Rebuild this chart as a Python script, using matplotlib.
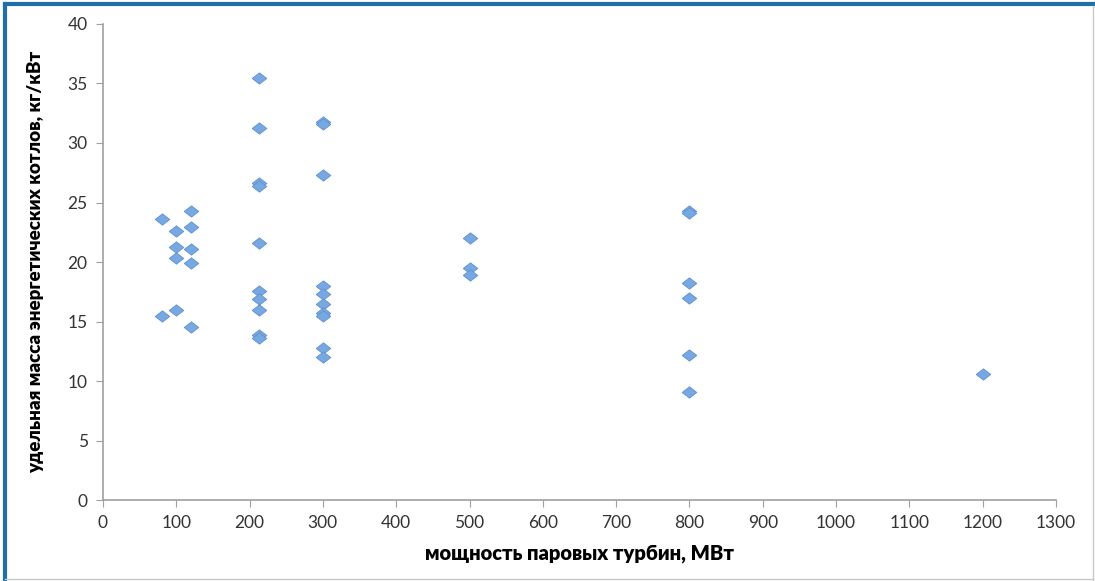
import numpy as np
import matplotlib
matplotlib.use("Agg")
import matplotlib.pyplot as plt
from matplotlib.lines import Line2D

plt.rcParams['font.family'] = ['Lato', 'DejaVu Sans']

# мощность турбины, МВт
power_80 = [80, 80]
mass_80 = [23.6, 15.5]
power_100 = [100, 100, 100, 100]
mass_100 = [22.6, 21.3, 20.3, 16.0]
power_120 = [120, 120, 120, 120, 120]
mass_120 = [24.3, 22.9, 21.1, 19.9, 14.5]
power_215 = [213] * 10
mass_215 = [35.5, 31.3, 26.6, 26.4, 21.6, 17.6, 16.9, 16.0, 13.9, 13.6]
power_300 = [300] * 10
mass_300 = [31.8, 31.6, 27.3, 18.0, 17.3, 16.5, 15.7, 15.5, 12.8, 12.0]
power_500 = [500, 500, 500]
mass_500 = [22.0, 19.5, 18.9]
power_800 = [800] * 6
mass_800 = [24.3, 24.1, 18.2, 17.0, 12.2, 9.1]
power_1200 = [1200]
mass_1200 = [10.6]

x = power_80 + power_100 + power_120 + power_215 + power_300 + power_500 + power_800 + power_1200
y = mass_80 + mass_100 + mass_120 + mass_215 + mass_300 + mass_500 + mass_800 + mass_1200

x_ticks = np.arange(0, 1301, 100)
y_ticks = np.arange(0, 41, 5)

fig = plt.figure(figsize=(10.95, 5.81), dpi=100)
ax = fig.add_axes([0.094, 0.1394, 0.8704, 0.8193])

diamond = [(-1, 0), (0, 0.78), (1, 0), (0, -0.78), (-1, 0)]
ax.scatter(x, y, marker=diamond, s=110, color="#78a8e2", edgecolors="#5f92cf",
           linewidths=0.6, zorder=3)

ax.set_xlim(0, 1300)
ax.set_ylim(0, 40)
ax.set_xticks(x_ticks)
ax.set_yticks(y_ticks)
ax.tick_params(direction="out", length=5, color="#a0a0a0", labelsize=12.5,
               labelcolor="#333333", pad=6)
for s in ["top", "right"]:
    ax.spines[s].set_visible(False)
for s in ["left", "bottom"]:
    ax.spines[s].set_color("#a0a0a0")
    ax.spines[s].set_linewidth(1.2)

ax.set_xlabel("мощность паровых турбин, МВт", fontsize=14.5, fontweight="heavy", labelpad=9)
ax.set_ylabel("удельная масса энергетических котлов, кг/кВт", fontsize=13.5,
              fontweight="heavy", labelpad=17)

# рамка диаграммы
fig.add_artist(Line2D([0.005, 0.005], [0.0, 0.993], transform=fig.transFigure,
                      color="#1f6fa8", lw=3))
fig.add_artist(Line2D([0.005, 1.0], [0.993, 0.993], transform=fig.transFigure,
                      color="#1f6fa8", lw=3))
fig.add_artist(Line2D([0.998, 0.998], [0.0, 0.99], transform=fig.transFigure,
                      color="#c8c8c8", lw=1))
fig.add_artist(Line2D([0.005, 0.998], [0.003, 0.003], transform=fig.transFigure,
                      color="#c8c8c8", lw=1))

fig.savefig("out.png", dpi=100)
